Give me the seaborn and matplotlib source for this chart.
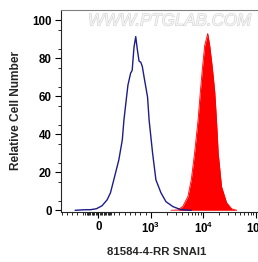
import numpy as np
import seaborn as sns
import matplotlib.pyplot as plt
import matplotlib.patheffects as pe
from matplotlib.ticker import FixedLocator

# control (blue outline) histogram
ctrl_x = [-442, -250, -154, -38, 71, 167, 231, 294, 390, 456, 487, 519, 563, 615, 644,
          679, 712, 740, 775, 808, 837, 871, 937, 967, 1000, 1078, 1248, 1557, 1943,
          2647, 3772, 5873]
ctrl_y = [0, 0.3, 0.3, 0.8, 2.4, 5.5, 9.2, 16.0, 26.5, 37.0, 47.4, 55.2, 65.8, 72.2, 73.6,
          85.8, 91.4, 85.1, 78.5, 77.9, 75.7, 70.1, 59.6, 47.4, 38.7, 30.2, 16.0, 9.2, 4.5,
          1.9, 0.3, 0]

# SNAI1 stained (red filled) histogram
snai_x = [2426, 3258, 4070, 5082, 5878, 6808, 7913, 8757, 9569, 10593, 12100, 13219,
          14898, 16491, 17783, 19170, 22190, 27700, 34550, 43120]
snai_y = [0, 0.2, 2.1, 7.3, 16.0, 30.2, 47.4, 62.3, 74.5, 86.7, 93.0, 86.7, 74.5, 62.3,
          47.4, 30.2, 12.5, 4.0, 0.8, 0]

x_ticks = [0, 1e3, 1e4, 1e5]
x_ticklabels = ['0', r'$\mathbf{10^3}$', r'$\mathbf{10^4}$', r'$\mathbf{10^5}$']
y_ticks = [0, 20, 40, 60, 80, 100]

sns.set_style("ticks")
plt.rcParams['font.family'] = ['Liberation Sans', 'DejaVu Sans']
plt.rcParams['mathtext.fontset'] = 'custom'
plt.rcParams['mathtext.bf'] = 'Liberation Sans:bold'
plt.rcParams['mathtext.rm'] = 'Liberation Sans'

fig = plt.figure(figsize=(2.58, 2.62), dpi=100)
ax = fig.add_axes([61 / 258, 50 / 262, 207 / 258, 202 / 262])

ax.set_xscale('symlog', linthresh=1000, linscale=0.9)

ax.fill_between(snai_x, snai_y, color='#ff0000', lw=0, zorder=2)
sns.lineplot(x=snai_x, y=snai_y, color='#ff0000', lw=0.6, ax=ax, zorder=2)
sns.lineplot(x=ctrl_x, y=ctrl_y, color='#1c1c8a', lw=1.0, ax=ax, zorder=3)

ax.set_xlim(-711, 170000)
ax.set_ylim(-0.9, 105.4)

ax.set_xticks(x_ticks)
ax.set_xticklabels(x_ticklabels)
minor_x = [v for v in range(-700, 1000, 100) if v != 0]
minor_x += [v for v in range(-250, 251, 25) if v != 0]
minor_x += [m * 10 ** k for k in (3, 4) for m in range(2, 10)]
ax.xaxis.set_minor_locator(FixedLocator(minor_x))

ax.set_yticks(y_ticks)
ax.yaxis.set_minor_locator(FixedLocator(np.arange(5, 105, 10)))

ax.tick_params(axis='both', which='major', direction='out', length=4.5, width=0.8,
               labelsize=8.3, pad=2, colors='black')
ax.tick_params(axis='both', which='minor', direction='out', length=2.3, width=0.7)
for lab in ax.get_xticklabels() + ax.get_yticklabels():
    lab.set_fontweight('bold')

ax.spines['top'].set_color('#808080')
ax.spines['top'].set_linewidth(0.8)
ax.spines['left'].set_linewidth(0.8)
ax.spines['bottom'].set_linewidth(0.8)

ax.set_ylabel('Relative Cell Number', fontsize=8.6, fontweight='bold')
ax.yaxis.set_label_coords(-0.19, 0.5)
ax.set_xlabel('81584-4-RR SNAI1', fontsize=8.2, fontweight='bold')
ax.xaxis.set_label_coords(0.46, -0.175)

fig.text(88 / 258, 1 - 21 / 262, 'WWW.PTGLAB.COM', fontsize=12.2, style='italic',
         color='#f5f5f5', va='center', ha='left',
         path_effects=[pe.withStroke(linewidth=0.8, foreground='#d2d2d2')])

plt.savefig('out.png', dpi=100)
